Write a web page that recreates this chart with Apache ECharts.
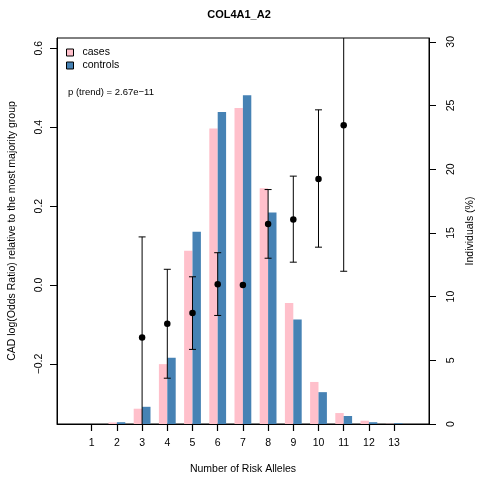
<!DOCTYPE html>
<html>
<head>
<meta charset="utf-8">
<script src="https://cdn.jsdelivr.net/npm/echarts@6/dist/echarts.min.js"></script>
<style>
html,body{margin:0;padding:0;background:#fff;}
#c{width:478px;height:477px;}
</style>
</head>
<body>
<div id="c"></div>
<script>
// ---- data ----
var alleles = [1, 2, 3, 4, 5, 6, 7, 8, 9, 10, 11, 12, 13];
var casesPct = [0, 0.12, 1.2, 4.7, 13.6, 23.2, 24.8, 18.5, 9.5, 3.3, 0.86, 0.26, 0.02];
var controlsPct = [0, 0.14, 1.35, 5.2, 15.1, 24.5, 25.8, 16.6, 8.2, 2.5, 0.63, 0.14, 0.06];
var orX = [3, 4, 5, 6, 7, 8, 9, 10, 11];
var logOR = [-0.133, -0.098, -0.071, 0.002, 0, 0.155, 0.166, 0.269, 0.405];
var ciLow = [-0.40, -0.236, -0.163, -0.077, null, 0.068, 0.058, 0.096, 0.035];
var ciHigh = [0.122, 0.040, 0.021, 0.082, null, 0.242, 0.276, 0.444, 0.80];
var leftTicks = [-0.2, 0, 0.2, 0.4, 0.6];
var rightTicks = [0, 5, 10, 15, 20, 25, 30];
var pText = 'p (trend) = 2.67e\u221211';

var FONT = 'Liberation Sans';
var chart = echarts.init(document.getElementById('c'), null, {renderer: 'canvas'});

function zip(a, b) { return a.map(function (v, i) { return [v, b[i]]; }); }
var errData = [];
orX.forEach(function (x, i) {
  if (ciLow[i] != null) errData.push([x, ciLow[i], ciHigh[i]]);
});

var option = {
  backgroundColor: '#fff',
  animation: false,
  title: {
    text: 'COL4A1_A2', left: 'center', top: 4,
    textStyle: {fontFamily: FONT, fontSize: 11, fontWeight: 'bold', color: '#000'}
  },
  legend: {
    data: ['cases', 'controls'],
    orient: 'vertical', left: 61, top: 42,
    icon: 'rect', itemWidth: 7, itemHeight: 7, itemGap: 2,
    itemStyle: {borderColor: '#000', borderWidth: 1},
    textStyle: {fontFamily: FONT, fontSize: 10.5, color: '#000', lineHeight: 11, padding: [0, 0, 0, 4]},
    selectedMode: false
  },
  graphic: [{
    type: 'text', left: 68, top: 87,
    style: {text: pText, fontFamily: FONT, fontSize: 9.5, fill: '#000'}
  }],
  grid: {left: 57, right: 49, top: 38, bottom: 53, show: true, borderColor: '#000', borderWidth: 1,
    backgroundColor: 'transparent', containLabel: false, outerBoundsMode: 'none'},
  xAxis: {
    type: 'value', min: -0.377, max: 14.385,
    name: 'Number of Risk Alleles', nameLocation: 'middle', nameGap: 40,
    nameTextStyle: {fontFamily: FONT, fontSize: 10.5, color: '#000'},
    axisLine: {show: true, onZero: false, lineStyle: {color: '#000', width: 1}},
    axisTick: {show: true, length: 7, lineStyle: {color: '#000', width: 1.2}, customValues: alleles},
    axisLabel: {margin: 14, fontFamily: FONT, fontSize: 10.5, color: '#000', customValues: alleles},
    splitLine: {show: false}
  },
  yAxis: [{
    type: 'value', min: -0.352, max: 0.626, position: 'left',
    name: 'CAD log(Odds Ratio) relative to the most majority group', nameLocation: 'middle', nameGap: 39, nameRotate: 90,
    nameTextStyle: {fontFamily: FONT, fontSize: 10.5, color: '#000'},
    axisLine: {show: true, onZero: false, lineStyle: {color: '#000', width: 1}},
    axisTick: {show: true, length: 7, lineStyle: {color: '#000'}, customValues: leftTicks},
    axisLabel: {rotate: 90, margin: 12, fontFamily: FONT, fontSize: 10.5, color: '#000', customValues: leftTicks,
      formatter: function (v) { return (v < 0 ? '\u2212' : '') + Math.abs(v).toFixed(1); }},
    splitLine: {show: false}
  }, {
    type: 'value', min: 0, max: 30.3, position: 'right',
    name: 'Individuals (%)', nameLocation: 'middle', nameGap: 33, nameRotate: 90,
    nameTextStyle: {fontFamily: FONT, fontSize: 10.5, color: '#000'},
    axisLine: {show: true, onZero: false, lineStyle: {color: '#000', width: 1}},
    axisTick: {show: true, length: 7, lineStyle: {color: '#000'}, customValues: rightTicks},
    axisLabel: {rotate: 90, margin: 17, fontFamily: FONT, fontSize: 10.5, color: '#000', customValues: rightTicks},
    splitLine: {show: false}
  }],
  series: [{
    name: 'cases', type: 'bar', yAxisIndex: 1, data: zip(alleles, casesPct),
    barWidth: 8.4, barGap: '0%', itemStyle: {color: '#FFC0CB'}, z: 1
  }, {
    name: 'controls', type: 'bar', yAxisIndex: 1, data: zip(alleles, controlsPct),
    barWidth: 8.4, barGap: '0%', itemStyle: {color: '#4682B4'}, z: 1
  }, {
    name: 'ci', type: 'custom', yAxisIndex: 0, data: errData, clip: true, z: 3,
    renderItem: function (params, api) {
      var x = api.value(0);
      var lo = api.coord([x, api.value(1)]);
      var hi = api.coord([x, api.value(2)]);
      var cw = 3.5;
      var st = {stroke: '#000', lineWidth: 1};
      return {
        type: 'group',
        children: [
          {type: 'line', shape: {x1: lo[0], y1: lo[1], x2: hi[0], y2: hi[1]}, style: st},
          {type: 'line', shape: {x1: lo[0] - cw, y1: lo[1], x2: lo[0] + cw, y2: lo[1]}, style: st},
          {type: 'line', shape: {x1: hi[0] - cw, y1: hi[1], x2: hi[0] + cw, y2: hi[1]}, style: st}
        ]
      };
    }
  }, {
    name: 'logOR', type: 'scatter', yAxisIndex: 0, data: zip(orX, logOR),
    symbol: 'circle', symbolSize: 6.5, itemStyle: {color: '#000', opacity: 1}, z: 4
  }]
};
chart.setOption(option);
</script>
</body>
</html>
